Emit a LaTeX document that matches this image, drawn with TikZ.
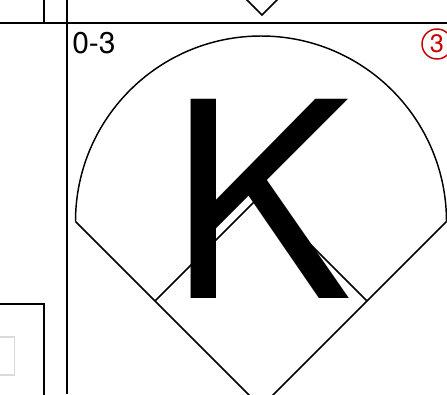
\documentclass[tikz,border=0pt]{standalone}
\usepackage{fontspec}
\setmainfont{TeX Gyre Heros}
\definecolor{outred}{RGB}{200,0,0}
\definecolor{boxgray}{RGB}{218,218,218}

\begin{document}
\begin{tikzpicture}[x=0.75pt,y=0.75pt,yscale=-1,xscale=1]
\tikzset{
  gridline/.style={line width=1.5pt},
  fieldline/.style={line width=1.1pt},
  count/.style={anchor=base west,inner sep=0pt,font=\fontsize{22.5}{22.5}\selectfont},
  result/.style={anchor=base,inner sep=0pt,font=\fontsize{205}{205}\selectfont},
  outs/.style={circle,draw=outred,text=outred,line width=1.1pt,inner sep=0pt,minimum size=22.5pt,font=\fontsize{19}{19}\selectfont},
}
\useasboundingbox (0,0) rectangle (447,394);
\clip (0,0) rectangle (447,394);

%Coordinates: bases and foul lines
\coordinate (home) at (261,407);
\coordinate (first) at (367,301);
\coordinate (second) at (261,195);
\coordinate (third) at (155,301);
\coordinate (leftpole) at (75.5,221.5);
\coordinate (rightpole) at (446.5,221.5);

%Straight Lines: cell grid
\draw [gridline]   (0,23) -- (447,23) ;
\draw [gridline]   (67,0) -- (67,394) ;
\draw [gridline]   (44,0) -- (44,23) ;
%Shape: Rectangle (cell below left)
\draw [gridline]   (-5,303.5) rectangle (43.5,400) ;
%Shape: Square (gray)
\draw [boxgray,line width=1.3pt]   (-5,337) rectangle (14.5,375) ;
%Straight Lines: diamond of the cell above
\draw [fieldline]   (244,-3) -- (262,15) -- (280,-3) ;

%Shape: Arc (outfield)
\draw [fieldline]   (leftpole) arc (180:360:185.5) ;
%Straight Lines: foul lines
\draw [fieldline]   (leftpole) -- (home) -- (rightpole) ;
%Straight Lines: infield
\draw [fieldline]   (third) -- (second) -- (first) ;

% Text Node
\node [count] (cnt) at (72,53.3) {0-3};
% Text Node
\node [result] (res) at (261,298) {K};
% Text Node
\node [outs] (out) at (437,44) {3};
\end{tikzpicture}
\end{document}
